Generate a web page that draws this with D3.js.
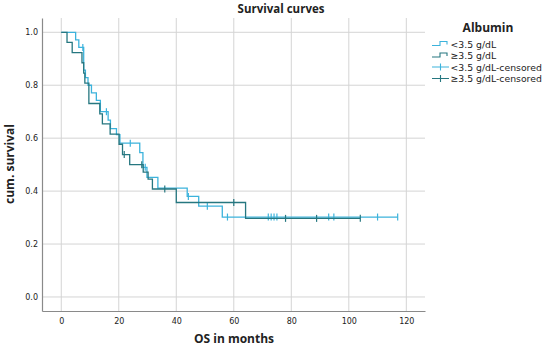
<!DOCTYPE html>
<html>
<head>
<meta charset="utf-8">
<script src="https://cdn.jsdelivr.net/npm/d3@7"></script>
<style>
  body { margin: 0; background: #fff; }
  text { font-family: "DejaVu Sans", sans-serif; fill: #222; }
</style>
</head>
<body>
<script>
// Kaplan-Meier steps: time of drop (months) and survival after it
var lowTimes = [5.0, 6.1, 7.8, 8.4, 9.3, 10.5, 12.2, 13.6, 16.3, 17.1, 19.2, 20.4, 27.3, 28.4, 29.8, 33.6, 43.8, 47.8, 56.0];
var lowSurv  = [0.971, 0.943, 0.857, 0.829, 0.800, 0.771, 0.743, 0.700, 0.668, 0.636, 0.613, 0.581, 0.545, 0.490, 0.452, 0.411, 0.380, 0.343, 0.302];
var lowCensored = [7.5, 15.7, 24.0, 29.2, 44.2, 50.8, 57.8, 72.0, 73.0, 74.0, 75.0, 93.0, 94.8, 110.0, 117.0];

var highTimes = [2.0, 3.8, 7.2, 7.8, 8.2, 9.6, 13.4, 14.3, 17.0, 20.1, 21.3, 23.8, 28.5, 30.2, 31.7, 40.0, 64.1];
var highSurv  = [0.962, 0.923, 0.885, 0.846, 0.808, 0.731, 0.692, 0.654, 0.615, 0.577, 0.538, 0.500, 0.472, 0.445, 0.408, 0.357, 0.297];
var highCensored = [21.9, 28.0, 36.0, 60.0, 78.0, 88.8, 104.0];

var xTicks = [0, 20, 40, 60, 80, 100, 120];
var yTicks = [0.0, 0.2, 0.4, 0.6, 0.8, 1.0];
var legendLabels = ['<3.5 g/dL', '\u22653.5 g/dL', '<3.5 g/dL-censored', '\u22653.5 g/dL-censored'];

var lightCol = '#3cb3dc';
var darkCol = '#267780';

var width = 550, height = 349;
var plot = {left: 42, right: 425, top: 18, bottom: 311};

var svg = d3.select('body').append('svg')
    .attr('width', width)
    .attr('height', height);

var x = d3.scaleLinear().domain([-6.7, 126.5]).range([plot.left, plot.right]);
var y = d3.scaleLinear().domain([-0.053, 1.054]).range([plot.bottom, plot.top]);

// grid lines
svg.append('g').selectAll('line.vg')
    .data(xTicks).enter().append('line')
    .attr('x1', function(d) { return x(d); })
    .attr('x2', function(d) { return x(d); })
    .attr('y1', plot.top).attr('y2', plot.bottom)
    .attr('stroke', '#d4d4d4').attr('stroke-width', 1);
svg.append('g').selectAll('line.hg')
    .data(yTicks).enter().append('line')
    .attr('y1', function(d) { return y(d); })
    .attr('y2', function(d) { return y(d); })
    .attr('x1', plot.left).attr('x2', plot.right)
    .attr('stroke', '#d4d4d4').attr('stroke-width', 1);

// axes (no tick marks, just the line and the labels)
var xAxis = d3.axisBottom(x).tickValues(xTicks).tickSize(0).tickPadding(7).tickFormat(d3.format('d'));
var yAxis = d3.axisLeft(y).tickValues(yTicks).tickSize(0).tickPadding(4).tickFormat(d3.format('.1f'));

var gx = svg.append('g')
    .attr('transform', 'translate(0,' + plot.bottom + ')')
    .call(xAxis);
var gy = svg.append('g')
    .attr('transform', 'translate(' + plot.left + ',0)')
    .call(yAxis);
[gx, gy].forEach(function(g) {
    g.select('.domain').attr('stroke', '#8a8a8a').attr('stroke-width', 1.2);
    g.selectAll('text').style('font-family', '"DejaVu Sans", sans-serif')
        .style('font-size', '8px').attr('fill', '#333');
});

// build step points from the arrays
function stepPoints(times, surv, endTime) {
    var pts = [[0, 1]];
    times.forEach(function(t, i) { pts.push([t, surv[i]]); });
    pts.push([endTime, surv[surv.length - 1]]);
    return pts;
}
function survAt(times, surv, t) {
    var s = 1;
    times.forEach(function(tt, i) { if (tt <= t) s = surv[i]; });
    return s;
}

var line = d3.line()
    .x(function(d) { return x(d[0]); })
    .y(function(d) { return y(d[1]); })
    .curve(d3.curveStepAfter);

var groups = [
    {times: lowTimes, surv: lowSurv, cens: lowCensored, color: lightCol},
    {times: highTimes, surv: highSurv, cens: highCensored, color: darkCol}
];

groups.forEach(function(grp) {
    svg.append('path')
        .datum(stepPoints(grp.times, grp.surv, d3.max(grp.cens)))
        .attr('fill', 'none')
        .attr('stroke', grp.color)
        .attr('stroke-width', 1.3)
        .attr('d', line);
    svg.append('g').selectAll('line')
        .data(grp.cens).enter().append('line')
        .attr('x1', function(d) { return x(d); })
        .attr('x2', function(d) { return x(d); })
        .attr('y1', function(d) { return y(survAt(grp.times, grp.surv, d)) - 3.5; })
        .attr('y2', function(d) { return y(survAt(grp.times, grp.surv, d)) + 3.5; })
        .attr('stroke', grp.color)
        .attr('stroke-width', 1.2);
});

// titles
svg.append('text')
    .attr('x', 281).attr('y', 13)
    .attr('text-anchor', 'middle')
    .style('font-family', '"Open Sans", sans-serif')
    .style('font-weight', 'bold').style('font-size', '11.5px')
    .text('Survival curves');

svg.append('text')
    .attr('x', 234).attr('y', 343)
    .attr('text-anchor', 'middle')
    .style('font-family', '"Open Sans", sans-serif')
    .style('font-weight', 'bold').style('font-size', '12px')
    .text('OS in months');

svg.append('text')
    .attr('transform', 'translate(14,164) rotate(-90)')
    .attr('text-anchor', 'middle')
    .style('font-family', '"Open Sans", sans-serif')
    .style('font-weight', 'bold').style('font-size', '12px')
    .text('cum. survival');

// legend
var legend = svg.append('g');
legend.append('text')
    .attr('x', 488).attr('y', 32)
    .attr('text-anchor', 'middle')
    .style('font-family', '"Open Sans", sans-serif')
    .style('font-weight', 'bold').style('font-size', '12px')
    .text('Albumin');

var legendColors = [lightCol, darkCol, lightCol, darkCol];
var legendRows = legend.selectAll('g.row')
    .data(legendLabels).enter().append('g')
    .attr('transform', function(d, i) { return 'translate(0,' + (44 + i * 11.5) + ')'; });

legendRows.each(function(d, i) {
    var row = d3.select(this);
    if (i < 2) {
        row.append('path')
            .attr('d', 'M432,1.5H440V-2.5H447V0.5')
            .attr('fill', 'none')
            .attr('stroke', legendColors[i]).attr('stroke-width', 1.1);
    } else {
        row.append('path')
            .attr('d', 'M432,0H449M440.5,-3.5V3.5')
            .attr('fill', 'none')
            .attr('stroke', legendColors[i]).attr('stroke-width', 1.1);
    }
    row.append('text')
        .attr('x', 450.5).attr('y', 3.5)
        .style('font-size', '9.3px')
        .text(d);
});
</script>
</body>
</html>
